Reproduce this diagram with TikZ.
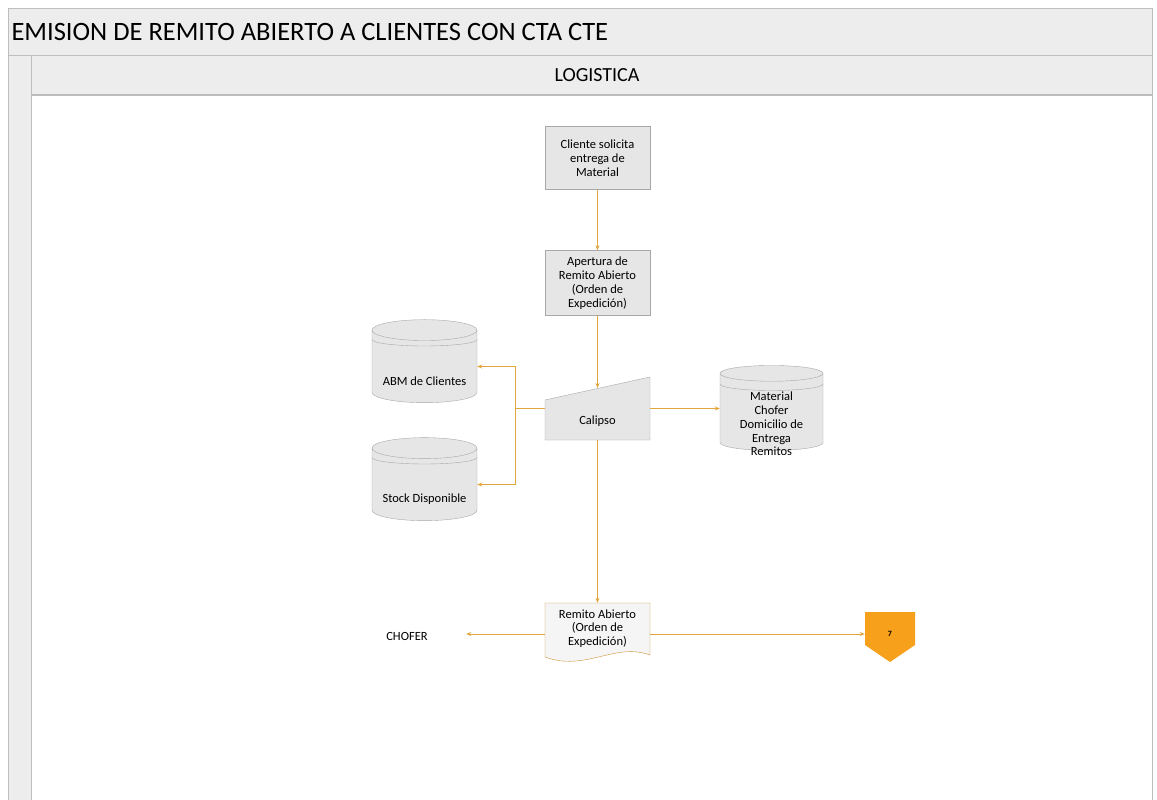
\documentclass[tikz,border=0pt]{standalone}
\usepackage{fontspec}
\setmainfont{Carlito}
\usetikzlibrary{shapes.geometric,arrows.meta,calc}
\definecolor{lanegray}{HTML}{EDEDED}
\definecolor{frameline}{HTML}{BDBDBD}
\definecolor{boxfill}{HTML}{E6E6E6}
\definecolor{boxline}{HTML}{A8A8A8}
\definecolor{flowline}{HTML}{E2A73C}
\definecolor{pageorange}{HTML}{F7A01C}
\begin{document}
\begin{tikzpicture}[x=1pt,y=-1pt,
	every node/.style={black,font=\fontsize{12.5}{13.8}\selectfont,align=center},
	procbox/.style={draw=boxline,fill=boxfill,minimum width=105pt,minimum height=63pt,inner sep=1pt},
	datastore/.style={cylinder,shape border rotate=90,aspect=0.25,draw=boxline,fill=boxfill,minimum width=105pt,minimum height=83pt,inner sep=0pt},
	hollow/.style={minimum width=105pt,minimum height=63pt,inner sep=0pt},
	flow/.style={draw=flowline,line width=0.8pt,-{Stealth[length=5pt,width=4pt]}},
	link/.style={draw=flowline,line width=0.8pt}
]
	\useasboundingbox (0,0) rectangle (1157,800);
	\fill[white] (0,0) rectangle (1157,800);
%	marco y carril
	\filldraw[fill=lanegray,draw=frameline] (8,8) rectangle (1152,55);
	\filldraw[fill=lanegray,draw=frameline] (8,55) rectangle (31,800);
	\filldraw[fill=lanegray,draw=frameline] (31,55) rectangle (1152,95);
	\draw[frameline,line width=1.5pt] (31,95) -- (1152,95);
	\draw[frameline] (1152,95) -- (1152,800);
	\node[anchor=west,font=\fontsize{26.5}{29}\selectfont] (title) at (8,32) {EMISION DE REMITO ABIERTO A CLIENTES CON CTA CTE};
	\node[font=\fontsize{20}{22}\selectfont] (lane) at (597,75) {LOGISTICA};

%	\coordinate (    ) at (X, Y);
	\coordinate (pcli) at (597.5,158);
	\coordinate (pape) at (597.5,283);
	\coordinate (pcal) at (597.5,408.5);
	\coordinate (pabm) at (424.5,366.5);
	\coordinate (pstk) at (424.5,484.5);
	\coordinate (pmat) at (771.5,412);
	\coordinate (prem) at (597.5,634);
	\coordinate (pcho) at (407,636);
	\coordinate (pcon) at (890,634);

%	formas dibujadas a mano
	\filldraw[fill=boxfill,draw=boxline] (545,400) -- (650,377) -- (650,440) -- (545,440) -- cycle;
	\filldraw[fill=boxfill!40,draw=flowline!90!black] (545,603) -- (650,603) -- (650,655) .. controls (615,642) and (585,672) .. (545,657) -- cycle;
	\fill[pageorange] (865,612) -- (915,612) -- (915,645) -- (890,662) -- (865,645) -- cycle;

	\node[procbox] (cli) at (pcli) {Cliente solicita\\entrega de\\Material};
	\node[procbox,minimum height=65pt] (ape) at (pape) {Apertura de\\Remito Abierto\\(Orden de\\Expedición)};
	\node[hollow] (cal) at (pcal) {};
	\node (caltxt) at (597.5,421) {Calipso};
	\node[datastore] (abm) at (pabm) {\phantom{ABM de Clientes}};
	\node (abmtxt) at (424.5,381) {ABM de Clientes};
	\node[datastore] (stk) at (pstk) {\phantom{Stock Disponible}};
	\node (stktxt) at (424.5,499) {Stock Disponible};
	\node[datastore,minimum width=103pt,minimum height=85pt] (mat) at (pmat) {\phantom{Domicilio de}};
	\node (mattxt) at (771.5,424) {Material\\Chofer\\Domicilio de\\Entrega\\Remitos};
	\node[hollow,minimum height=62pt] (rem) at (prem) {};
	\node (remtxt) at (597.5,628.5) {Remito Abierto\\(Orden de\\Expedición)};
	\node (cho) at (pcho) {CHOFER};
	\node[minimum width=50pt,minimum height=44pt,font=\fontsize{8}{9}\selectfont\bfseries] (con) at (pcon) {7};

	\foreach \c in {abm,stk}
		\draw[boxline] ($(\c.center)+(-52.5,-27)$) arc[start angle=180,end angle=0,x radius=52.5,y radius=6.5];
	\draw[boxline] ($(mat.center)+(-51.5,-28)$) arc[start angle=180,end angle=0,x radius=51.5,y radius=6.5];

	\coordinate (calin) at (597.5,388);
	\coordinate (jn) at (515,408.5);
	\draw[flow] (cli) -- (ape);
	\draw[flow] (ape) -- (calin);
	\draw[link] (cal.west) -- (jn);
	\draw[flow] (jn) |- (abm);
	\draw[flow] (jn) |- (stk);
	\draw[flow] (cal.east) -- (cal.east -| mat.west);
	\draw[flow] (cal.south) -- (rem.north);
	\draw[flow,shorten >=35pt] (rem.west) -- (rem.west -| cho.east);
	\draw[flow] (rem.east) -- (rem.east -| con.west);
\end{tikzpicture}
\end{document}
